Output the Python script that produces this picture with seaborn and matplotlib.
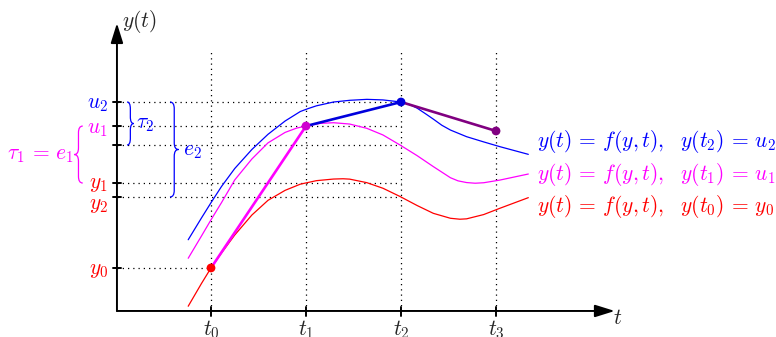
import matplotlib
matplotlib.use('Agg')
import matplotlib.pyplot as plt
import matplotlib.patches as mpatches
from matplotlib.path import Path
import seaborn as sns

# time steps t0..t3
t_steps = [0, 1, 2, 3]
t_labels = ['$t_0$', '$t_1$', '$t_2$', '$t_3$']

# values marked on the y axis
y0 = 0.453
y1 = 1.347
y2 = 1.20
u1 = 1.947
u2 = 2.20
mag_t2 = 1.747  # u1-solution evaluated at t2

# Euler steps
euler_t = [0, 1, 2, 3]
euler_y = [y0, u1, u2, 1.895]

# solution through (t2, u2)
blue_t = [-0.24, -0.1, 0.0, 0.11, 0.25, 0.43, 0.6, 0.78, 0.94, 1.02, 1.11, 1.29, 1.46, 1.64,
          1.81, 2.0, 2.08, 2.17, 2.26, 2.34, 2.43, 2.52, 2.69, 2.87, 3.04, 3.34]
blue_y = [0.75, 0.98, 1.14, 1.31, 1.50, 1.70, 1.86, 2.0, 2.10, 2.13, 2.16, 2.20, 2.218, 2.228,
          2.222, 2.20, 2.178, 2.135, 2.075, 2.02, 1.955, 1.905, 1.835, 1.78, 1.73, 1.649]

# solution through (t1, u1)
mag_t = [-0.24, -0.1, 0.0, 0.11, 0.25, 0.43, 0.6, 0.78, 0.9, 1.0, 1.15, 1.29, 1.46, 1.64,
         1.81, 1.99, 2.17, 2.34, 2.52, 2.6, 2.69, 2.78, 2.87, 3.04, 3.34]
mag_y = [0.555, 0.79, 0.96, 1.14, 1.38, 1.60, 1.77, 1.88, 1.925, 1.947, 1.975, 1.982, 1.968, 1.923,
         1.853, 1.747, 1.635, 1.52, 1.403, 1.37, 1.352, 1.345, 1.35, 1.378, 1.442]

# solution through (t0, y0)
red_t = [-0.24, -0.1, 0.0, 0.11, 0.25, 0.43, 0.6, 0.78, 0.94, 1.11, 1.29, 1.39, 1.46, 1.64,
         1.81, 1.99, 2.17, 2.34, 2.52, 2.62, 2.69, 2.87, 3.04, 3.34]
red_y = [0.05, 0.29, 0.453, 0.61, 0.80, 1.01, 1.165, 1.27, 1.335, 1.372, 1.389, 1.392, 1.388, 1.351,
         1.292, 1.205, 1.11, 1.028, 0.976, 0.966, 0.97, 1.015, 1.081, 1.193]

BLUE = '#0000ff'
MAG = '#ff00ff'
RED = '#ff0000'
PURPLE = '#800080'

sns.set_style('white')
plt.rcParams['mathtext.fontset'] = 'cm'
FS = 15.5

fig = plt.figure(figsize=(7.76, 3.37), dpi=100)
ax = fig.add_axes([0, 0, 1, 1])
ax.set_xlim(-2.221, 5.947)
ax.set_ylim(-0.274, 3.274)
ax.axis('off')

x_org = -0.99
dot = dict(color='black', lw=0.9, ls=(0, (1, 3.2)), zorder=1)

# dotted guides
for t in t_steps:
    ax.plot([t, t], [0, 2.73], **dot)
for v in [u2, u1, mag_t2, y1, y2]:
    ax.plot([x_org, 2], [v, v], **dot)
ax.plot([x_org, 0], [y0, y0], **dot)

# axes with arrows
arrow = dict(arrowstyle='-|>,head_length=0.8,head_width=0.25', lw=1.4, color='black',
             shrinkA=0, shrinkB=0, mutation_scale=15)
ax.annotate('', xy=(4.25, 0), xytext=(x_org, 0), arrowprops=arrow)
ax.annotate('', xy=(x_org, 3.03), xytext=(x_org, 0), arrowprops=arrow)
for t in t_steps:
    ax.plot([t, t], [-0.05, 0.045], color='black', lw=1.4)
for v in [u2, u1, mag_t2, y1, y2, y0]:
    ax.plot([x_org - 0.045, x_org + 0.045], [v, v], color='black', lw=1.4)

# solution curves
sns.lineplot(x=blue_t, y=blue_y, color=BLUE, lw=0.9, estimator=None, ax=ax, zorder=3)
sns.lineplot(x=mag_t, y=mag_y, color=MAG, lw=0.9, estimator=None, ax=ax, zorder=3)
sns.lineplot(x=red_t, y=red_y, color=RED, lw=0.9, estimator=None, ax=ax, zorder=3)

# Euler steps
seg_colors = [MAG, '#0000dd', PURPLE]
for i, c in enumerate(seg_colors):
    sns.lineplot(x=euler_t[i:i + 2], y=euler_y[i:i + 2], color=c, lw=1.9,
                 estimator=None, ax=ax, zorder=4)
sns.scatterplot(x=euler_t, y=euler_y, hue=[0, 1, 2, 3],
                palette=[RED, '#d000d0', '#0000dd', PURPLE], s=40, linewidth=0,
                legend=False, ax=ax, zorder=5)


def brace(x, ya, yb, amp, color):
    top, bot = max(ya, yb), min(ya, yb)
    mid = (top + bot) / 2
    h = amp / 2
    r = min(0.07, (top - bot) / 4)
    verts = [(x, top), (x + h, top), (x + h, top - r),
             (x + h, mid + r),
             (x + h, mid), (x + amp, mid),
             (x + h, mid), (x + h, mid - r),
             (x + h, bot + r),
             (x + h, bot), (x, bot)]
    codes = [Path.MOVETO, Path.CURVE3, Path.CURVE3, Path.LINETO,
             Path.CURVE3, Path.CURVE3, Path.CURVE3, Path.CURVE3,
             Path.LINETO, Path.CURVE3, Path.CURVE3]
    ax.add_patch(mpatches.PathPatch(Path(verts, codes), fill=False,
                                    edgecolor=color, lw=0.9))


brace(-1.35, u1, y1, -0.09, MAG)
brace(-0.884, u2, mag_t2, 0.07, BLUE)
brace(-0.432, u2, y2, 0.09, BLUE)

# labels on the y axis
lx = -1.084
ax.text(lx, u2 - 0.02, '$u_2$', color=BLUE, fontsize=FS, ha='right', va='center')
ax.text(lx, u1 - 0.03, '$u_1$', color=MAG, fontsize=FS, ha='right', va='center')
ax.text(lx, y1 - 0.01, '$y_1$', color=RED, fontsize=FS, ha='right', va='center')
ax.text(lx, y2 - 0.08, '$y_2$', color=RED, fontsize=FS, ha='right', va='center')
ax.text(lx, y0 - 0.02, '$y_0$', color=RED, fontsize=FS, ha='right', va='center')

ax.text(-1.442, 1.642, r'$\tau_1\,=\,e_1$', color=MAG, fontsize=FS, ha='right', va='center')
ax.text(-0.79, 1.968, r'$\tau_2$', color=BLUE, fontsize=FS, ha='left', va='center')
ax.text(-0.29, 1.684, r'$e_2$', color=BLUE, fontsize=FS, ha='left', va='center')

for t, lab in zip(t_steps, t_labels):
    ax.text(t, -0.074, lab, fontsize=FS, ha='center', va='top')
ax.text(4.232, -0.074, '$t$', fontsize=FS, ha='left', va='center')
ax.text(-0.937, 3.05, '$y(t)$', fontsize=FS, ha='left', va='center')

ex = 3.432
ax.text(ex, 1.789, r'$y(t)\,=\,f(y,t),\ \ y(t_2)\,=\,u_2$', color=BLUE, fontsize=FS, va='center')
ax.text(ex, 1.442, r'$y(t)\,=\,f(y,t),\ \ y(t_1)\,=\,u_1$', color=MAG, fontsize=FS, va='center')
ax.text(ex, 1.095, r'$y(t)\,=\,f(y,t),\ \ y(t_0)\,=\,y_0$', color=RED, fontsize=FS, va='center')

fig.savefig('out.png', dpi=100)
